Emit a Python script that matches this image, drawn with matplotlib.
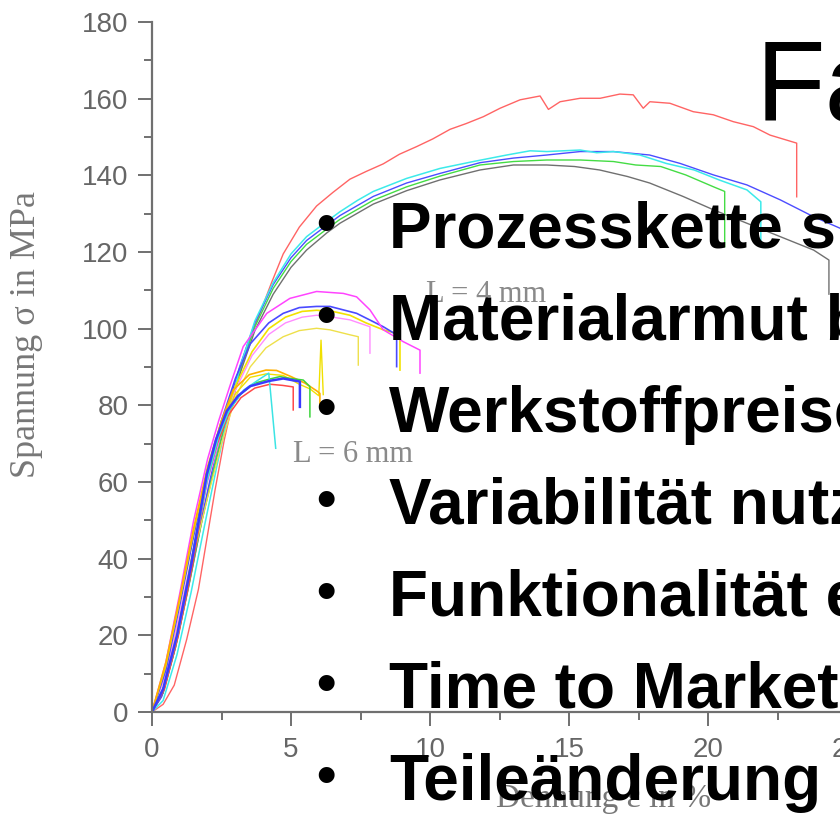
import matplotlib
matplotlib.use("Agg")
import matplotlib.pyplot as plt
from matplotlib.ticker import MultipleLocator

# ---------------------------------------------------------------------------
# Stress-strain curves (strain in %, stress in MPa)
# ---------------------------------------------------------------------------
# upper family
red_a_strain = [0, 0.4, 0.8, 1.25, 1.67, 1.97, 2.27, 2.6, 3.0, 3.4, 3.88, 4.3, 4.72, 5.3, 5.92,
                6.5, 7.12, 7.7, 8.32, 8.9, 9.52, 10.1, 10.72, 11.3, 11.92, 12.52, 13.24, 13.96,
                14.26, 14.68, 15.4, 16.12, 16.83, 17.31, 17.67, 17.91, 18.63, 19.47, 20.19,
                20.91, 21.63, 22.23, 23.19, 23.19]
red_a_stress = [0, 2, 7, 19, 32, 45, 58, 71, 84, 95, 104, 112, 119.5, 126.5, 132,
                135.5, 139, 141, 143, 145.5, 147.5, 149.5, 152, 153.5, 155.3, 157.5, 159.7, 160.7,
                157.2, 159.2, 160.1, 160.1, 161.2, 161.0, 157.5, 159.2, 158.8, 156.6, 155.8,
                154.0, 152.7, 150.5, 148.4, 134.4]

cyan_a_strain = [0, 0.4, 0.9, 1.4, 1.9, 2.33, 2.75, 3.17, 3.7, 4.36, 5.0, 5.56, 6.29, 6.76, 7.4,
                 7.96, 9.16, 10.36, 11.56, 12.76, 13.6, 14.2, 15.4, 16.0, 16.6, 17.55, 18.5,
                 19.5, 20.4, 21.4, 21.9, 21.9]
cyan_a_stress = [0, 3, 15, 31, 49, 64, 78, 90, 102, 112, 119.5, 124, 128, 130.5, 133.5,
                 135.8, 139.2, 141.8, 143.6, 145.3, 146.4, 146.2, 146.6, 145.9, 146.2, 145.3, 143.1,
                 141.4, 138.8, 136.2, 133.1, 123.1]

blue_a_strain = [0, 0.35, 0.8, 1.3, 1.8, 2.25, 2.7, 3.15, 3.7, 4.36, 5.0, 5.56, 6.29, 6.76,
                 7.96, 9.16, 10.36, 11.8, 13.0, 14.2, 15.4, 16.6, 17.9, 19.0, 20.2, 21.4, 22.6,
                 23.8, 24.75, 25.2]
blue_a_stress = [0, 4, 16, 33, 51, 66, 79, 90, 101.5, 111.5, 118.5, 123, 127, 129.5,
                 134.5, 138, 140.5, 143.3, 144.5, 145.3, 146.2, 146.2, 145.3, 143.1, 140.1, 137.5,
                 133.6, 129.2, 126.2, 125.0]

green_a_strain = [0, 0.4, 0.85, 1.35, 1.85, 2.3, 2.75, 3.2, 3.7, 4.36, 5.0, 5.56, 6.29, 6.76,
                  7.96, 9.16, 10.36, 11.8, 13.0, 14.2, 15.4, 16.6, 17.4, 18.3, 19.2, 20.2,
                  20.6, 20.6]
green_a_stress = [0, 5, 17, 34, 52, 66, 79, 90, 100.5, 110.5, 117.5, 122, 126, 128.5,
                  133.5, 137, 139.8, 142.7, 143.6, 144.0, 144.0, 143.6, 142.7, 142.3, 140.1, 137.0,
                  135.8, 121.4]

gray_a_strain = [0, 0.4, 0.85, 1.3, 1.8, 2.25, 2.7, 3.2, 3.7, 4.36, 5.0, 5.56, 6.29, 6.76,
                 7.96, 9.16, 10.36, 11.8, 13.0, 14.2, 15.2, 16.1, 17.1, 17.9, 19.1, 20.2, 21.4,
                 22.6, 23.8, 24.35, 24.35]
gray_a_stress = [0, 5, 17, 32, 50, 64, 77, 89, 99.5, 109, 116, 120.5, 125, 127.5,
                 132.5, 136, 138.8, 141.4, 142.7, 142.7, 142.3, 141.4, 139.7, 138.0, 134.5, 131.0,
                 127.5, 124.0, 120.5, 117.9, 109.0]

# L = 4 mm
magenta_b_strain = [0, 0.5, 1.0, 1.5, 2.0, 2.4, 2.8, 3.28, 4.13, 4.96, 5.92, 6.88, 7.36, 7.84,
                    8.32, 9.04, 9.64, 9.64]
magenta_b_stress = [0, 13, 31, 50, 66, 76, 85, 95.3, 104, 107.9, 109.7, 109.2, 108.3, 104.9,
                    99.7, 96.6, 94.4, 88.4]

blue_b_strain = [0, 0.5, 1.0, 1.5, 2.0, 2.5, 3.0, 3.53, 4.2, 4.72, 5.3, 5.92, 6.4, 7.36, 8.32,
                 8.8, 8.8]
blue_b_stress = [0, 11, 28, 46, 63, 76, 87, 96, 101.5, 104, 105.5, 105.8, 105.8, 104, 100.5,
                 98.4, 90.1]

yellow_b_strain = [0, 0.5, 1.0, 1.5, 2.0, 2.5, 3.0, 3.6, 4.2, 4.8, 5.4, 5.92, 6.5, 7.12, 7.7,
                   8.32, 8.92, 8.92]
yellow_b_stress = [0, 12, 29, 47, 63, 75, 85, 94, 100, 103, 104.5, 104.8, 104.5, 103.5, 101.5,
                   99.7, 98.5, 89.2]

pink_b_strain = [0, 0.5, 1.0, 1.5, 2.0, 2.5, 3.0, 3.6, 4.2, 4.8, 5.4, 5.92, 6.5, 7.12, 7.84,
                 7.84]
pink_b_stress = [0, 10, 26, 43, 60, 73, 84, 93, 98.5, 101.5, 103, 103.5, 103, 102.3, 100.5,
                 93.6]

paleyellow_b_strain = [0, 0.5, 1.0, 1.5, 2.0, 2.5, 3.0, 3.53, 4.1, 4.72, 5.3, 5.92, 6.4, 7.12,
                       7.42, 7.42]
paleyellow_b_stress = [0, 10, 25, 41, 56, 70, 82, 90, 95, 97.9, 99.5, 100.1, 99.7, 98.4,
                       97.9, 90.5]

# L = 6 mm
orange_c_strain = [0, 0.5, 1.0, 1.5, 2.0, 2.5, 2.92, 3.5, 4.1, 4.48, 5.0, 5.5, 5.92, 6.04, 6.04]
orange_c_stress = [0, 13, 30, 48, 64, 76, 84, 88, 89.2, 89.1, 87.5, 85.8, 83.8, 83.1, 80.0]

yellow_c_strain = [0, 0.5, 1.0, 1.5, 2.0, 2.5, 3.0, 3.53, 4.1, 4.72, 5.3, 5.68, 6.0, 6.08, 6.16]
yellow_c_stress = [0, 12, 29, 47, 63, 75, 83, 87.3, 88.2, 87.8, 85.5, 84.3, 82.5, 97.0, 82.8]

cyan_c_strain = [0, 0.45, 0.95, 1.45, 1.97, 2.4, 2.8, 3.3, 3.8, 4.2, 4.45]
cyan_c_stress = [0, 7, 21, 40, 60, 72, 79, 84, 86.5, 88.4, 68.8]

green_c_strain = [0, 0.4, 0.9, 1.4, 1.97, 2.35, 2.75, 3.2, 3.7, 4.2, 4.6, 5.0, 5.44, 5.68, 5.68]
green_c_stress = [0, 6, 20, 39, 61, 71, 78.5, 83, 85.8, 86.8, 87.5, 87.0, 86.6, 84.9, 77.0]

blue_c_strain = [0, 0.4, 0.9, 1.4, 1.97, 2.3, 2.69, 3.1, 3.53, 4.24, 4.72, 5.32, 5.32]
blue_c_stress = [0, 6, 20, 38, 62, 71, 78.5, 82.5, 85, 86.4, 87, 86.2, 79.6]

red_c_strain = [0, 0.45, 0.95, 1.45, 1.97, 2.35, 2.75, 3.2, 3.7, 4.24, 4.7, 5.08, 5.08]
red_c_stress = [0, 6, 20, 38, 60, 70, 77.5, 82, 84.5, 85.5, 85.2, 84.8, 78.8]

curves = [
    (red_a_strain, red_a_stress, "#ff6464", 1.0),
    (gray_a_strain, gray_a_stress, "#707070", 1.0),
    (green_a_strain, green_a_stress, "#44dc44", 1.0),
    (blue_a_strain, blue_a_stress, "#4c4cff", 1.0),
    (cyan_a_strain, cyan_a_stress, "#3ceaea", 1.1),
    (paleyellow_b_strain, paleyellow_b_stress, "#eee04a", 1.0),
    (pink_b_strain, pink_b_stress, "#ff8cff", 1.0),
    (yellow_b_strain, yellow_b_stress, "#f2e200", 1.2),
    (blue_b_strain, blue_b_stress, "#4a4aff", 1.2),
    (magenta_b_strain, magenta_b_stress, "#ff44ff", 1.1),
    (yellow_c_strain, yellow_c_stress, "#f0e000", 1.0),
    (orange_c_strain, orange_c_stress, "#ffb000", 1.2),
    (red_c_strain, red_c_stress, "#ff4848", 1.1),
    (green_c_strain, green_c_stress, "#3cd43c", 1.1),
    (cyan_c_strain, cyan_c_stress, "#3ce4e4", 1.1),
    (blue_c_strain, blue_c_stress, "#3a3aff", 1.8),
]

x_ticks = [0, 5, 10, 15, 20, 25, 30]
y_ticks = [0, 20, 40, 60, 80, 100, 120, 140, 160, 180]

bullet_lines = [
    "Prozesskette s",
    "Materialarmut b",
    "Werkstoffpreise",
    "Variabilität nutz",
    "Funktionalität e",
    "Time to Market",
    "Teileänderung",
]

# ---------------------------------------------------------------------------
W, H, DPI = 840, 815, 100
fig = plt.figure(figsize=(W / DPI, H / DPI), dpi=DPI)
fig.patch.set_facecolor("white")

x0_px, y0_px = 152, 712
px_per_pct = 27.8
px_per_mpa = 690 / 180
x_max = 32.5
ax = fig.add_axes([x0_px / W, (H - y0_px) / H,
                   x_max * px_per_pct / W, 180 * px_per_mpa / H])

for xs, ys, col, lw in curves:
    ax.plot(xs, ys, color=col, lw=lw, solid_joinstyle="round")

ax.set_xlim(0, x_max)
ax.set_ylim(0, 180)
axis_gray = "#707070"
for side in ("top", "right"):
    ax.spines[side].set_visible(False)
for side in ("left", "bottom"):
    ax.spines[side].set_color(axis_gray)
    ax.spines[side].set_linewidth(1.6)

ax.set_xticks(x_ticks)
ax.set_yticks(y_ticks)
ax.xaxis.set_minor_locator(MultipleLocator(2.5))
ax.yaxis.set_minor_locator(MultipleLocator(10))
ax.tick_params(which="major", direction="out", length=10, width=1.4, color=axis_gray,
               labelcolor="#666666", labelsize=20)
ax.tick_params(which="minor", direction="out", length=6, width=1.4, color=axis_gray)
ax.tick_params(axis="y", which="major", pad=7)
ax.tick_params(axis="x", which="major", pad=8)
for lab in ax.get_xticklabels() + ax.get_yticklabels():
    lab.set_fontfamily("Liberation Sans")

serif = "Liberation Serif"
ax.set_xlabel("Dehnung ε in %", fontfamily=serif, fontsize=24, color="#777777",
              va="baseline")
ax.xaxis.set_label_coords(0.5, -(807 - y0_px) / (180 * px_per_mpa))
ax.set_ylabel("Spannung σ in MPa", fontfamily=serif, fontsize=26, color="#777777")
ax.yaxis.set_label_coords((43 - x0_px) / (x_max * px_per_pct), (712 - 335) / 690)

ax.text(9.86, 107.0, "L = 4 mm", fontfamily=serif, fontsize=22, color="#8a8a8a",
        va="baseline", ha="left")
ax.text(5.07, 65.3, "L = 6 mm", fontfamily=serif, fontsize=22, color="#8a8a8a",
        va="baseline", ha="left")

# slide text layered on top of the chart
fig.text(756 / W, 1 - 121 / H, "Fa", fontfamily="Liberation Sans", fontsize=82,
         color="black", va="baseline", ha="left", zorder=10)
baselines = [248, 340, 432, 524, 616, 708, 800]
for txt, base in zip(bullet_lines, baselines):
    fig.text(326 / W, 1 - (base - 7) / H, "•", fontfamily="Liberation Sans",
             fontweight="bold", fontsize=40, color="black", va="baseline", ha="center",
             zorder=10)
    fig.text(389 / W, 1 - base / H, txt, fontfamily="Liberation Sans", fontweight="bold",
             fontsize=46, color="black", va="baseline", ha="left", zorder=10)

fig.savefig("out.png", dpi=DPI)
